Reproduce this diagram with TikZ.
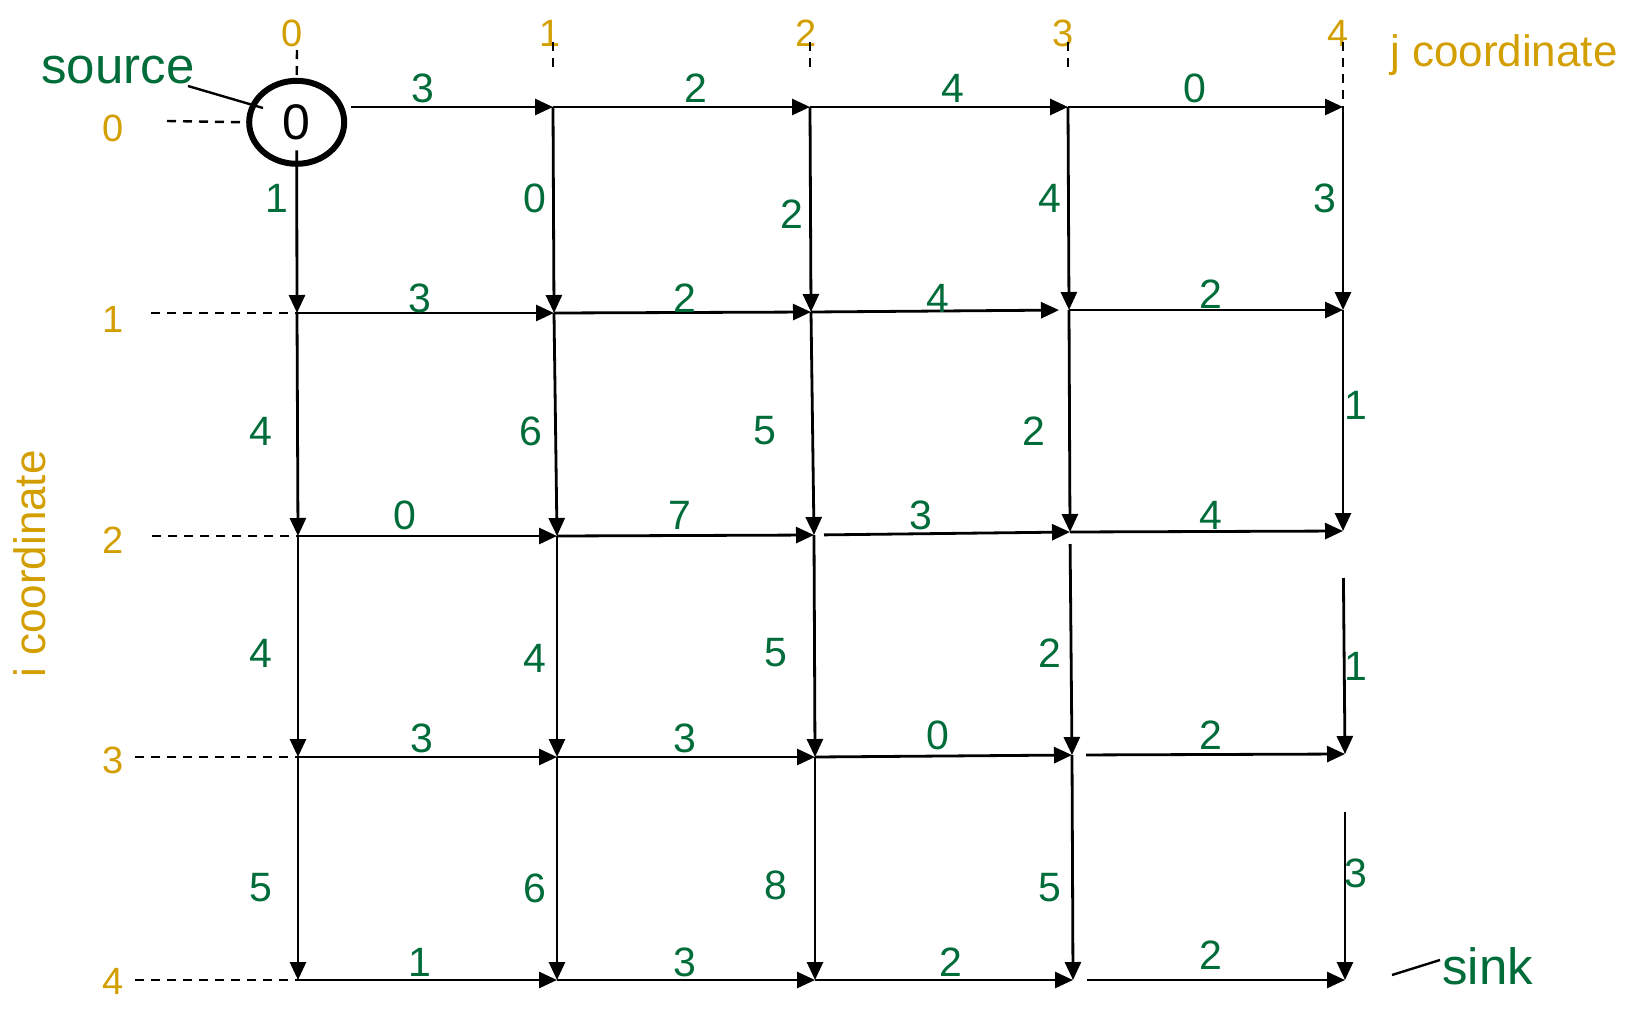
\documentclass[tikz,border=0pt]{standalone}
\usepackage{fontspec}
\setmainfont{Liberation Sans}
\usetikzlibrary{arrows.meta,shapes.geometric}
\definecolor{idxgold}{RGB}{210,158,0}
\definecolor{wgreen}{RGB}{0,108,58}
\tikzset{
  edgearrow/.style={draw=black,line width=2.8pt,-{Triangle[length=18pt,width=16pt]}},
  guide/.style={draw=black,line width=2.4pt,dash pattern=on 9pt off 7pt},
  wlabel/.style={text=wgreen,font=\fontsize{41}{41}\selectfont,inner sep=0pt},
  idxlabel/.style={text=idxgold,font=\fontsize{38}{38}\selectfont,inner sep=0pt},
  axislabel/.style={text=idxgold,font=\fontsize{44}{44}\selectfont,inner sep=0pt},
  tag/.style={text=wgreen,font=\fontsize{51}{51}\selectfont,inner sep=0pt},
  pointer/.style={draw=black,line width=2.4pt}
}
\begin{document}
\begin{tikzpicture}[x=1pt,y=-1pt]
\useasboundingbox (0,0) rectangle (1638,1010);

% grid points
\coordinate (g01) at (553,107);
\coordinate (g02) at (810,107);
\coordinate (g03) at (1068,107);
\coordinate (g04) at (1343,107);
\coordinate (g10) at (297,313);
\coordinate (g11) at (554,313);
\coordinate (g12) at (811,312);
\coordinate (g13) at (1069,310);
\coordinate (g14) at (1343,310);
\coordinate (g20) at (298,536);
\coordinate (g21) at (557,536);
\coordinate (g22) at (814,535);
\coordinate (g23) at (1070,532);
\coordinate (g24) at (1343,531);
\coordinate (g30) at (298,757);
\coordinate (g31) at (557,757);
\coordinate (g32) at (815,757);
\coordinate (g33) at (1072,755);
\coordinate (g34) at (1345,754);
\coordinate (g40) at (298,980);
\coordinate (g41) at (557,980);
\coordinate (g42) at (815,980);
\coordinate (g43) at (1073,980);
\coordinate (g44) at (1345,980);

% source node
\node[ellipse,draw=black,line width=6pt,minimum width=95pt,minimum height=83pt,inner sep=0pt,
      font=\fontsize{50}{50}\selectfont] (src) at (296.7,122.3) {0};

% index labels (j)
\node[idxlabel] (j0) at (292,33) {0};
\node[idxlabel] (j1) at (550,33) {1};
\node[idxlabel] (j2) at (806,33) {2};
\node[idxlabel] (j3) at (1063,33) {3};
\node[idxlabel] (j4) at (1338,33) {4};
\node[axislabel,anchor=base west] (jaxis) at (1390,66) {j coordinate};

% index labels (i)
\node[idxlabel] (i0) at (113,128) {0};
\node[idxlabel] (i1) at (113,319) {1};
\node[idxlabel] (i2) at (113,540) {2};
\node[idxlabel] (i3) at (113,760) {3};
\node[idxlabel] (i4) at (113,981) {4};
\node[axislabel,rotate=90] (iaxis) at (30,564) {i coordinate};

% guide lines
\coordinate (dj0a) at (297,50);
\draw[guide] (dj0a) -- (src.north);
\coordinate (dj1a) at (553,42); \coordinate (dj1b) at (553,68);
\coordinate (dj2a) at (810,42); \coordinate (dj2b) at (810,68);
\coordinate (dj3a) at (1068,42); \coordinate (dj3b) at (1068,68);
\coordinate (dj4a) at (1343,42);
\draw[guide] (dj1a) -- (dj1b);
\draw[guide] (dj2a) -- (dj2b);
\draw[guide] (dj3a) -- (dj3b);
\draw[guide] (dj4a) -- (g04);
\coordinate (di0) at (167,121);
\draw[guide] (di0) -- (src.west);
\coordinate (di1) at (151,313);
\coordinate (di2) at (152,536);
\coordinate (di3) at (135,757);
\coordinate (di4) at (135,980);
\draw[guide] (di1) -- (g10);
\draw[guide] (di2) -- (g20);
\draw[guide] (di3) -- (g30);
\draw[guide] (di4) -- (g40);

% horizontal edges
\coordinate (s0) at (351,107);
\draw[edgearrow] (s0) -- (g01);
\draw[edgearrow] (g01) -- (g02);
\draw[edgearrow] (g02) -- (g03);
\draw[edgearrow] (g03) -- (g04);
\draw[edgearrow] (g10) -- (g11);
\draw[edgearrow] (g11) -- (g12);
\draw[edgearrow,shorten >=10pt] (g12) -- (g13);
\draw[edgearrow] (g13) -- (g14);
\draw[edgearrow] (g20) -- (g21);
\draw[edgearrow] (g21) -- (g22);
\draw[edgearrow,shorten <=10pt] (g22) -- (g23);
\draw[edgearrow] (g23) -- (g24);
\draw[edgearrow] (g30) -- (g31);
\draw[edgearrow] (g31) -- (g32);
\draw[edgearrow] (g32) -- (g33);
\draw[edgearrow,shorten <=14pt] (g33) -- (g34);
\draw[edgearrow] (g40) -- (g41);
\draw[edgearrow] (g41) -- (g42);
\draw[edgearrow] (g42) -- (g43);
\draw[edgearrow,shorten <=14pt] (g43) -- (g44);

% vertical edges
\draw[edgearrow] ([yshift=-28pt]src.center) -- (g10);
\draw[edgearrow] (g01) -- (g11);
\draw[edgearrow] (g02) -- (g12);
\draw[edgearrow] (g03) -- (g13);
\draw[edgearrow] (g04) -- (g14);
\draw[edgearrow] (g10) -- (g20);
\draw[edgearrow] (g11) -- (g21);
\draw[edgearrow] (g12) -- (g22);
\draw[edgearrow] (g13) -- (g23);
\draw[edgearrow] (g14) -- (g24);
\draw[edgearrow] (g20) -- (g30);
\draw[edgearrow] (g21) -- (g31);
\draw[edgearrow] (g22) -- (g32);
\draw[edgearrow,shorten <=12pt] (g23) -- (g33);
\draw[edgearrow,shorten <=47pt] (g24) -- (g34);
\draw[edgearrow] (g30) -- (g40);
\draw[edgearrow] (g31) -- (g41);
\draw[edgearrow] (g32) -- (g42);
\draw[edgearrow] (g33) -- (g43);
\draw[edgearrow,shorten <=58pt] (g34) -- (g44);

% weights: row 0
\node[wlabel] (h01) at (423,88) {3};
\node[wlabel] (h02) at (696,88) {2};
\node[wlabel] (h03) at (953,88) {4};
\node[wlabel] (h04) at (1195,88) {0};
% verticals 0->1
\node[wlabel] (v00) at (277,198) {1};
\node[wlabel] (v01) at (535,198) {0};
\node[wlabel] (v02) at (792,214) {2};
\node[wlabel] (v03) at (1050,198) {4};
\node[wlabel] (v04) at (1325,198) {3};
% row 1
\node[wlabel] (h11) at (420,298) {3};
\node[wlabel] (h12) at (685,298) {2};
\node[wlabel] (h13) at (938,298) {4};
\node[wlabel] (h14) at (1211,294) {2};
% verticals 1->2
\node[wlabel] (v10) at (261,431) {4};
\node[wlabel] (v11) at (531,431) {6};
\node[wlabel] (v12) at (765,431) {5};
\node[wlabel] (v13) at (1034,431) {2};
\node[wlabel] (v14) at (1356,405) {1};
% row 2
\node[wlabel] (h21) at (405,515) {0};
\node[wlabel] (h22) at (680,515) {7};
\node[wlabel] (h23) at (921,515) {3};
\node[wlabel] (h24) at (1211,515) {4};
% verticals 2->3
\node[wlabel] (v20) at (261,653) {4};
\node[wlabel] (v21) at (535,658) {4};
\node[wlabel] (v22) at (776,653) {5};
\node[wlabel] (v23) at (1050,653) {2};
\node[wlabel] (v24) at (1356,666) {1};
% row 3
\node[wlabel] (h31) at (422,738) {3};
\node[wlabel] (h32) at (685,738) {3};
\node[wlabel] (h33) at (938,735) {0};
\node[wlabel] (h34) at (1211,735) {2};
% verticals 3->4
\node[wlabel] (v30) at (261,888) {5};
\node[wlabel] (v31) at (535,888) {6};
\node[wlabel] (v32) at (776,885) {8};
\node[wlabel] (v33) at (1050,888) {5};
\node[wlabel] (v34) at (1356,873) {3};
% row 4
\node[wlabel] (h41) at (420,962) {1};
\node[wlabel] (h42) at (685,962) {3};
\node[wlabel] (h43) at (951,962) {2};
\node[wlabel] (h44) at (1211,955) {2};

% source / sink tags
\node[tag] (srctag) at (118,70) {source};
\coordinate (srcq) at (188,86);
\coordinate (srcp) at (263,108);
\draw[pointer] (srcq) -- (srcp);
\node[tag,anchor=west] (sinktag) at (1442,966) {sink};
\coordinate (sinkq) at (1440,960);
\coordinate (sinkp) at (1392,975);
\draw[pointer] (sinkq) -- (sinkp);
\end{tikzpicture}
\end{document}
